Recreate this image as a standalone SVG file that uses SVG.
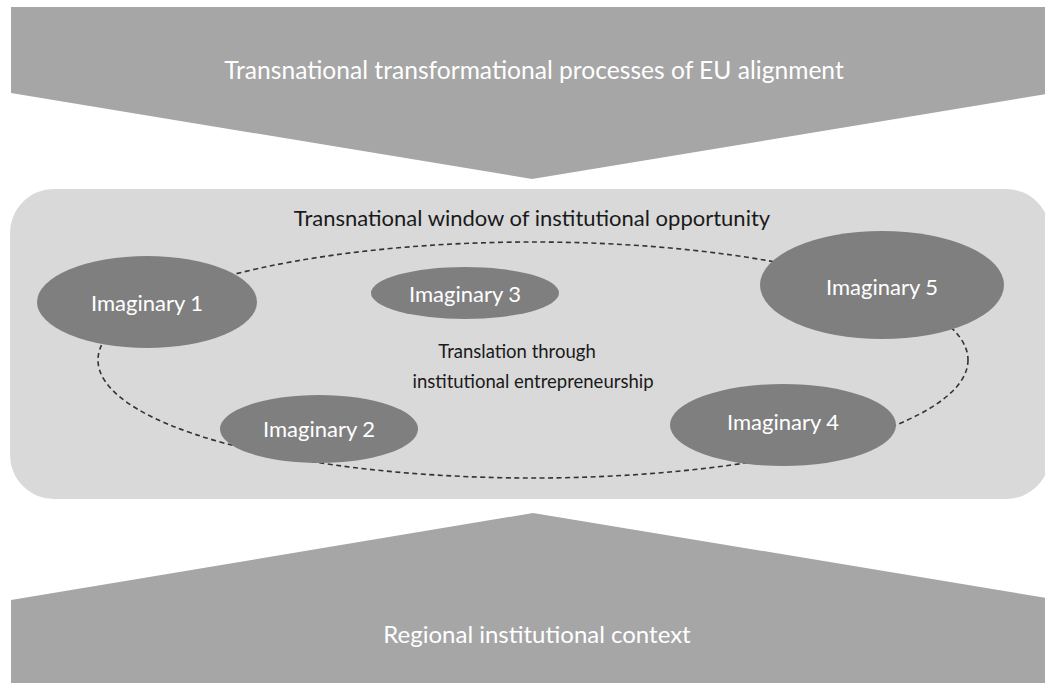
<svg xmlns="http://www.w3.org/2000/svg" width="1045" height="683" viewBox="0 0 1045 683">
  <style>
    .band { fill: #a6a6a6; }
    .window { fill: #d9d9d9; }
    .imaginary { fill: #7f7f7f; }
    .dash { fill: none; stroke: #333333; stroke-width: 1.6; stroke-dasharray: 5 3.5; }
    text { font-family: Lato, "Liberation Sans", sans-serif; text-anchor: middle; }
    .light { fill: #ffffff; }
    .dark { fill: #1a1a1a; }
    .big { font-size: 24.6px; }
    .base { font-size: 24px; }
    .title { font-size: 22px; }
    .mid { font-size: 18.5px; }
    .node { font-size: 22px; }
  </style>

  <rect width="1045" height="683" fill="#ffffff"/>

  <!-- top band: chevron pointing down -->
  <g id="eu-alignment">
    <polygon class="band" points="11,7 1053,7 1053,93 532,179 11,93"/>
    <text class="big light" x="534" y="79">Transnational transformational processes of EU alignment</text>
  </g>

  <!-- central window -->
  <g id="window">
    <rect class="window" x="10" y="189" width="1040" height="310" rx="44" ry="44"/>
    <text class="title dark" x="532" y="226">Transnational window of institutional opportunity</text>
  </g>

  <!-- dashed ring linking the imaginaries -->
  <g id="connectors">
    <ellipse class="dash" cx="533" cy="360" rx="435" ry="118"/>
  </g>

  <g id="translation">
    <text class="mid dark" x="517" y="358">Translation through</text>
    <text class="mid dark" x="533" y="388">institutional entrepreneurship</text>
  </g>

  <g id="imaginary-1">
    <ellipse class="imaginary" cx="147" cy="302" rx="110" ry="46"/>
    <text class="node light" x="147" y="311">Imaginary 1</text>
  </g>
  <g id="imaginary-2">
    <ellipse class="imaginary" cx="319" cy="429" rx="99" ry="34"/>
    <text class="node light" x="319" y="437">Imaginary 2</text>
  </g>
  <g id="imaginary-3">
    <ellipse class="imaginary" cx="465" cy="293" rx="94" ry="26"/>
    <text class="node light" x="465" y="302">Imaginary 3</text>
  </g>
  <g id="imaginary-4">
    <ellipse class="imaginary" cx="783" cy="425" rx="113" ry="41"/>
    <text class="node light" x="783" y="430">Imaginary 4</text>
  </g>
  <g id="imaginary-5">
    <ellipse class="imaginary" cx="882" cy="285" rx="122" ry="54"/>
    <text class="node light" x="882" y="295">Imaginary 5</text>
  </g>

  <!-- bottom band: chevron pointing up -->
  <g id="regional-context">
    <polygon class="band" points="533,513 1053,599 1053,683 11,683 11,600"/>
    <text class="base light" x="537" y="643">Regional institutional context</text>
  </g>
</svg>
